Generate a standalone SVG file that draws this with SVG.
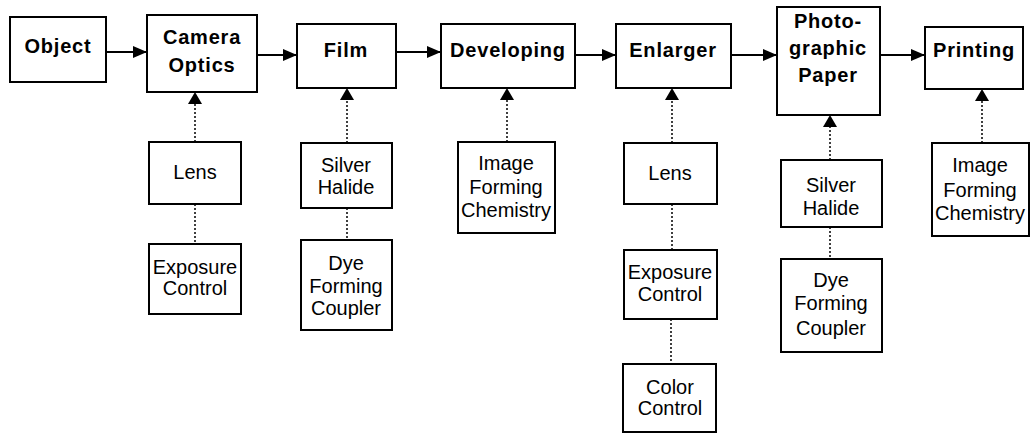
<svg xmlns="http://www.w3.org/2000/svg" width="1032" height="434" viewBox="0 0 1032 434">
<style>
.box{fill:#fff;stroke:#000;stroke-width:2}
.main{font-family:"Liberation Sans",Arial,sans-serif;font-weight:bold;font-size:20px;letter-spacing:0.8px;text-anchor:middle;fill:#000}
.sub{font-family:"Liberation Sans",Arial,sans-serif;font-size:20px;text-anchor:middle;fill:#000}
.arr{stroke:#000;stroke-width:2;fill:none}
.dot{stroke:#000;stroke-width:1.5;stroke-dasharray:2 2;fill:none}
</style>
<defs>
<marker id="ah" viewBox="0 0 14 12" refX="14" refY="6" markerWidth="14" markerHeight="12" markerUnits="userSpaceOnUse" orient="auto">
<path d="M0,0 L14,6 L0,12 Z" fill="#000"/>
</marker>
</defs>
<rect width="1032" height="434" fill="#fff"/>
<g id="connectors">
<line class="arr" x1="106" y1="52" x2="147" y2="52" marker-end="url(#ah)"/>
<line class="arr" x1="257" y1="55" x2="297" y2="55" marker-end="url(#ah)"/>
<line class="arr" x1="396" y1="52" x2="441" y2="52" marker-end="url(#ah)"/>
<line class="arr" x1="575" y1="55" x2="616" y2="55" marker-end="url(#ah)"/>
<line class="arr" x1="731" y1="55" x2="777" y2="55" marker-end="url(#ah)"/>
<line class="arr" x1="880" y1="55" x2="925" y2="55" marker-end="url(#ah)"/>
<line class="dot" x1="195" y1="142" x2="195" y2="104"/>
<path d="M188,104 L195,92 L202,104 Z" fill="#000"/>
<line class="dot" x1="195" y1="204" x2="195" y2="244"/>
<line class="dot" x1="347" y1="143" x2="347" y2="100"/>
<path d="M340,100 L347,88 L354,100 Z" fill="#000"/>
<line class="dot" x1="347" y1="208" x2="347" y2="240"/>
<line class="dot" x1="507" y1="142" x2="507" y2="100"/>
<path d="M500,100 L507,88 L514,100 Z" fill="#000"/>
<line class="dot" x1="672" y1="143" x2="672" y2="100"/>
<path d="M665,100 L672,88 L679,100 Z" fill="#000"/>
<line class="dot" x1="672" y1="204" x2="672" y2="250"/>
<line class="dot" x1="671" y1="319" x2="671" y2="364"/>
<line class="dot" x1="830" y1="160" x2="830" y2="127"/>
<path d="M823,127 L830,115 L837,127 Z" fill="#000"/>
<line class="dot" x1="830" y1="227" x2="830" y2="259"/>
<line class="dot" x1="982" y1="143" x2="982" y2="101"/>
<path d="M975,101 L982,89 L989,101 Z" fill="#000"/>
</g>
<g id="object"><rect class="box" x="10" y="17" width="96" height="65"/><text class="main" x="58" y="53">Object</text></g>
<g id="camera-optics"><rect class="box" x="147" y="15" width="110" height="77"/><text class="main" x="202" y="44">Camera</text><text class="main" x="202" y="72">Optics</text></g>
<g id="film"><rect class="box" x="297" y="24" width="99" height="64"/><text class="main" x="346" y="57">Film</text></g>
<g id="developing"><rect class="box" x="441" y="24" width="134" height="64"/><text class="main" x="508" y="57">Developing</text></g>
<g id="enlarger"><rect class="box" x="616" y="24" width="115" height="64"/><text class="main" x="673" y="57">Enlarger</text></g>
<g id="photographic-paper"><rect class="box" x="777" y="7" width="103" height="108"/><text class="main" x="828" y="28">Photo-</text><text class="main" x="828" y="55">graphic</text><text class="main" x="828" y="82">Paper</text></g>
<g id="printing"><rect class="box" x="925" y="27" width="98" height="62"/><text class="main" x="974" y="57">Printing</text></g>
<g id="lens1"><rect class="box" x="149" y="142" width="92" height="62"/><text class="sub" x="195" y="179">Lens</text></g>
<g id="exposure1"><rect class="box" x="149" y="244" width="92" height="70"/><text class="sub" x="195" y="274">Exposure</text><text class="sub" x="195" y="295">Control</text></g>
<g id="silver1"><rect class="box" x="301" y="143" width="91" height="65"/><text class="sub" x="346" y="172">Silver</text><text class="sub" x="346" y="194">Halide</text></g>
<g id="dye1"><rect class="box" x="301" y="240" width="91" height="90"/><text class="sub" x="346" y="270">Dye</text><text class="sub" x="346" y="293">Forming</text><text class="sub" x="346" y="315">Coupler</text></g>
<g id="chem1"><rect class="box" x="458" y="142" width="97" height="91"/><text class="sub" x="506" y="170">Image</text><text class="sub" x="506" y="194">Forming</text><text class="sub" x="506" y="217">Chemistry</text></g>
<g id="lens2"><rect class="box" x="624" y="143" width="93" height="61"/><text class="sub" x="670" y="180">Lens</text></g>
<g id="exposure2"><rect class="box" x="624" y="250" width="93" height="69"/><text class="sub" x="670" y="279">Exposure</text><text class="sub" x="670" y="301">Control</text></g>
<g id="color2"><rect class="box" x="623" y="364" width="93" height="68"/><text class="sub" x="670" y="394">Color</text><text class="sub" x="670" y="415">Control</text></g>
<g id="silver2"><rect class="box" x="781" y="160" width="101" height="67"/><text class="sub" x="831" y="192">Silver</text><text class="sub" x="831" y="215">Halide</text></g>
<g id="dye2"><rect class="box" x="781" y="259" width="101" height="93"/><text class="sub" x="831" y="287">Dye</text><text class="sub" x="831" y="310">Forming</text><text class="sub" x="831" y="335">Coupler</text></g>
<g id="chem2"><rect class="box" x="932" y="143" width="97" height="93"/><text class="sub" x="980" y="172">Image</text><text class="sub" x="980" y="197">Forming</text><text class="sub" x="980" y="220">Chemistry</text></g>
</svg>
